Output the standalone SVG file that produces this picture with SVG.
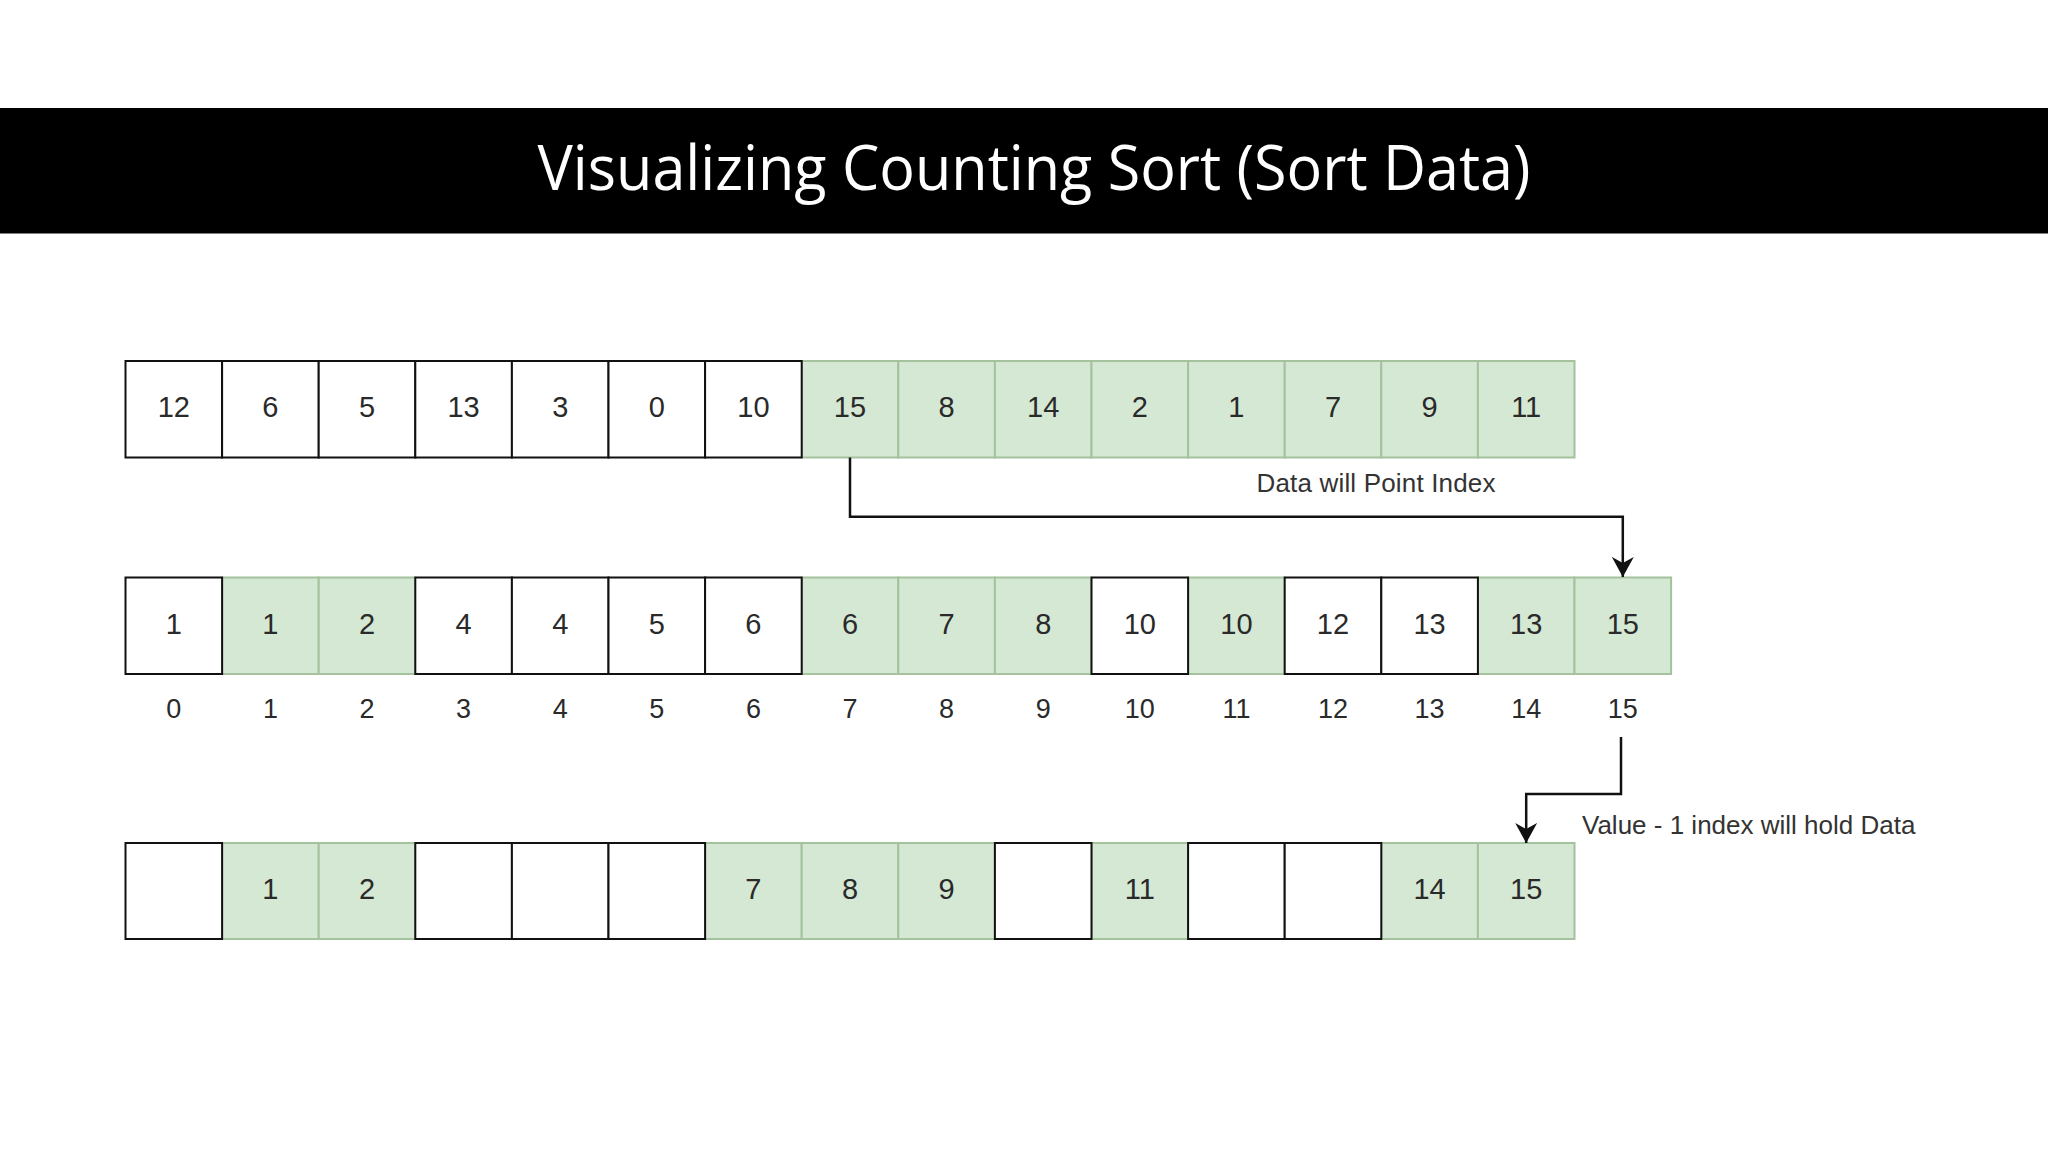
<svg xmlns="http://www.w3.org/2000/svg" width="2048" height="1152" viewBox="0 0 2048 1152">
<style>
.w{fill:#ffffff;stroke:#111111;stroke-width:2}
.g{fill:#d5e8d4;stroke:#a3c29d;stroke-width:2}
.n{font-family:"Liberation Sans",Arial,sans-serif;font-size:29px;fill:#2a2a2a;text-anchor:middle;dominant-baseline:central}
.i{font-family:"Liberation Sans",Arial,sans-serif;font-size:27px;fill:#2a2a2a;text-anchor:middle;dominant-baseline:central}
.lbl{font-family:"Liberation Sans",Arial,sans-serif;font-size:26px;fill:#333333}
.c{fill:none;stroke:#111111;stroke-width:2.5}
</style>
<defs>
<marker id="arr" viewBox="0 0 20 22" refX="20" refY="11" markerWidth="20" markerHeight="22" markerUnits="userSpaceOnUse" orient="auto">
<path d="M0,0 L20,11 L0,22 L6,11 Z" fill="#111111"/>
</marker>
</defs>
<rect x="0" y="0" width="2048" height="1152" fill="#ffffff"/>
<g id="title">
<rect x="0" y="108" width="2048" height="125.5" fill="#000000"/>
<text x="1034" y="190" font-family="'Open Sans','Noto Sans',sans-serif" font-size="62" fill="#ffffff" text-anchor="middle" textLength="993" lengthAdjust="spacingAndGlyphs">Visualizing Counting Sort (Sort Data)</text>
</g>
<g id="row-data">
<rect class="g" x="801.7" y="361" width="96.6" height="96.5"/>
<rect class="g" x="898.3" y="361" width="96.6" height="96.5"/>
<rect class="g" x="994.9" y="361" width="96.6" height="96.5"/>
<rect class="g" x="1091.5" y="361" width="96.6" height="96.5"/>
<rect class="g" x="1188.1" y="361" width="96.6" height="96.5"/>
<rect class="g" x="1284.7" y="361" width="96.6" height="96.5"/>
<rect class="g" x="1381.3" y="361" width="96.6" height="96.5"/>
<rect class="g" x="1477.9" y="361" width="96.6" height="96.5"/>
<rect class="w" x="125.5" y="361" width="96.6" height="96.5"/>
<rect class="w" x="222.1" y="361" width="96.6" height="96.5"/>
<rect class="w" x="318.7" y="361" width="96.6" height="96.5"/>
<rect class="w" x="415.3" y="361" width="96.6" height="96.5"/>
<rect class="w" x="511.9" y="361" width="96.6" height="96.5"/>
<rect class="w" x="608.5" y="361" width="96.6" height="96.5"/>
<rect class="w" x="705.1" y="361" width="96.6" height="96.5"/>
<text class="n" x="173.8" y="406.5">12</text>
<text class="n" x="270.4" y="406.5">6</text>
<text class="n" x="367" y="406.5">5</text>
<text class="n" x="463.6" y="406.5">13</text>
<text class="n" x="560.2" y="406.5">3</text>
<text class="n" x="656.8" y="406.5">0</text>
<text class="n" x="753.4" y="406.5">10</text>
<text class="n" x="850" y="406.5">15</text>
<text class="n" x="946.6" y="406.5">8</text>
<text class="n" x="1043.2" y="406.5">14</text>
<text class="n" x="1139.8" y="406.5">2</text>
<text class="n" x="1236.4" y="406.5">1</text>
<text class="n" x="1333" y="406.5">7</text>
<text class="n" x="1429.6" y="406.5">9</text>
<text class="n" x="1526.2" y="406.5">11</text>
</g>
<g id="row-count">
<rect class="g" x="222.1" y="577.5" width="96.6" height="96.5"/>
<rect class="g" x="318.7" y="577.5" width="96.6" height="96.5"/>
<rect class="g" x="801.7" y="577.5" width="96.6" height="96.5"/>
<rect class="g" x="898.3" y="577.5" width="96.6" height="96.5"/>
<rect class="g" x="994.9" y="577.5" width="96.6" height="96.5"/>
<rect class="g" x="1188.1" y="577.5" width="96.6" height="96.5"/>
<rect class="g" x="1477.9" y="577.5" width="96.6" height="96.5"/>
<rect class="g" x="1574.5" y="577.5" width="96.6" height="96.5"/>
<rect class="w" x="125.5" y="577.5" width="96.6" height="96.5"/>
<rect class="w" x="415.3" y="577.5" width="96.6" height="96.5"/>
<rect class="w" x="511.9" y="577.5" width="96.6" height="96.5"/>
<rect class="w" x="608.5" y="577.5" width="96.6" height="96.5"/>
<rect class="w" x="705.1" y="577.5" width="96.6" height="96.5"/>
<rect class="w" x="1091.5" y="577.5" width="96.6" height="96.5"/>
<rect class="w" x="1284.7" y="577.5" width="96.6" height="96.5"/>
<rect class="w" x="1381.3" y="577.5" width="96.6" height="96.5"/>
<text class="n" x="173.8" y="623.5">1</text>
<text class="n" x="270.4" y="623.5">1</text>
<text class="n" x="367" y="623.5">2</text>
<text class="n" x="463.6" y="623.5">4</text>
<text class="n" x="560.2" y="623.5">4</text>
<text class="n" x="656.8" y="623.5">5</text>
<text class="n" x="753.4" y="623.5">6</text>
<text class="n" x="850" y="623.5">6</text>
<text class="n" x="946.6" y="623.5">7</text>
<text class="n" x="1043.2" y="623.5">8</text>
<text class="n" x="1139.8" y="623.5">10</text>
<text class="n" x="1236.4" y="623.5">10</text>
<text class="n" x="1333" y="623.5">12</text>
<text class="n" x="1429.6" y="623.5">13</text>
<text class="n" x="1526.2" y="623.5">13</text>
<text class="n" x="1622.8" y="623.5">15</text>
</g>
<g id="indices">
<text class="i" x="173.8" y="709">0</text>
<text class="i" x="270.4" y="709">1</text>
<text class="i" x="367" y="709">2</text>
<text class="i" x="463.6" y="709">3</text>
<text class="i" x="560.2" y="709">4</text>
<text class="i" x="656.8" y="709">5</text>
<text class="i" x="753.4" y="709">6</text>
<text class="i" x="850" y="709">7</text>
<text class="i" x="946.6" y="709">8</text>
<text class="i" x="1043.2" y="709">9</text>
<text class="i" x="1139.8" y="709">10</text>
<text class="i" x="1236.4" y="709">11</text>
<text class="i" x="1333" y="709">12</text>
<text class="i" x="1429.6" y="709">13</text>
<text class="i" x="1526.2" y="709">14</text>
<text class="i" x="1622.8" y="709">15</text>
</g>
<g id="row-output">
<rect class="g" x="222.1" y="843" width="96.6" height="96"/>
<rect class="g" x="318.7" y="843" width="96.6" height="96"/>
<rect class="g" x="705.1" y="843" width="96.6" height="96"/>
<rect class="g" x="801.7" y="843" width="96.6" height="96"/>
<rect class="g" x="898.3" y="843" width="96.6" height="96"/>
<rect class="g" x="1091.5" y="843" width="96.6" height="96"/>
<rect class="g" x="1381.3" y="843" width="96.6" height="96"/>
<rect class="g" x="1477.9" y="843" width="96.6" height="96"/>
<rect class="w" x="125.5" y="843" width="96.6" height="96"/>
<rect class="w" x="415.3" y="843" width="96.6" height="96"/>
<rect class="w" x="511.9" y="843" width="96.6" height="96"/>
<rect class="w" x="608.5" y="843" width="96.6" height="96"/>
<rect class="w" x="994.9" y="843" width="96.6" height="96"/>
<rect class="w" x="1188.1" y="843" width="96.6" height="96"/>
<rect class="w" x="1284.7" y="843" width="96.6" height="96"/>
<text class="n" x="270.4" y="889">1</text>
<text class="n" x="367" y="889">2</text>
<text class="n" x="753.4" y="889">7</text>
<text class="n" x="850" y="889">8</text>
<text class="n" x="946.6" y="889">9</text>
<text class="n" x="1139.8" y="889">11</text>
<text class="n" x="1429.6" y="889">14</text>
<text class="n" x="1526.2" y="889">15</text>
</g>
<g id="connectors">
<path class="c" d="M850,457.5 V516.7 H1622.8 V577" marker-end="url(#arr)"/>
<path class="c" d="M1621,737 V794 H1526.2 V843" marker-end="url(#arr)"/>
</g>
<g id="labels">
<text class="lbl" x="1256.5" y="492" textLength="239">Data will Point Index</text>
<text class="lbl" x="1582" y="833.5">Value - 1 index will hold Data</text>
</g>
</svg>
